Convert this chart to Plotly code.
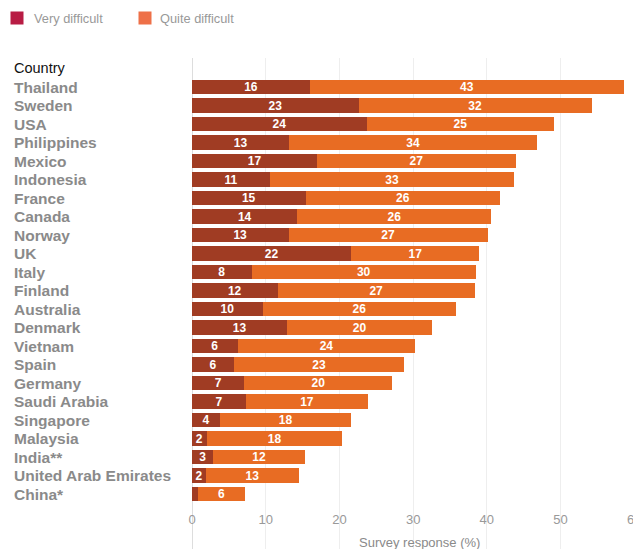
import plotly.graph_objects as go

countries = ["Thailand", "Sweden", "USA", "Philippines", "Mexico", "Indonesia", "France",
             "Canada", "Norway", "UK", "Italy", "Finland", "Australia", "Denmark", "Vietnam",
             "Spain", "Germany", "Saudi Arabia", "Singapore", "Malaysia", "India**",
             "United Arab Emirates", "China*"]
very_difficult = [16.0, 22.6, 23.7, 13.2, 17.0, 10.6, 15.4, 14.3, 13.1, 21.6, 8.1, 11.6, 9.6,
                  12.9, 6.2, 5.7, 7.1, 7.3, 3.8, 2.0, 2.9, 1.9, 0.8]
quite_difficult = [42.6, 31.6, 25.4, 33.6, 26.9, 33.1, 26.4, 26.3, 27.0, 17.4, 30.4, 26.8, 26.2,
                   19.7, 24.1, 23.1, 20.1, 16.6, 17.8, 18.4, 12.4, 12.6, 6.4]
x_ticks = [0, 10, 20, 30, 40, 50, 60]
series_names = ["Very difficult", "Quite difficult"]

DARK = "#A03C23"
ORANGE = "#E86C23"
LEG_VERY = "#B81C44"
LEG_QUITE = "#EE7048"
FONT = "Liberation Sans, Arial, sans-serif"

# page body has an 8px margin; work in page pixels and convert
OFF = 8
PAGE_W, PAGE_H = 641, 549
W, H = PAGE_W - OFF, PAGE_H - OFF
PLOT_L, PLOT_R, PLOT_T, PLOT_B = 192, 635, 58, 549  # page pixels
L, R, T, B = PLOT_L - OFF, PAGE_W - PLOT_R, PLOT_T - OFF, PAGE_H - PLOT_B
pw, ph = W - L - R, H - T - B


def px_x(p):
    return (p - OFF - L) / pw


def px_y(p):
    return (H - B - (p - OFF)) / ph


def labels(vals):
    return [f"{int(v + 0.5):d}" if v >= 1.5 else "" for v in vals]


fig = go.Figure()
for vals, col, name in [(very_difficult, DARK, series_names[0]),
                        (quite_difficult, ORANGE, series_names[1])]:
    fig.add_trace(go.Bar(
        y=countries, x=vals, orientation="h", name=name,
        marker=dict(color=col, line=dict(width=0)),
        text=labels(vals), textposition="inside", insidetextanchor="middle", textangle=0,
        textfont=dict(color="white", size=12, family=FONT, weight="bold"),
        showlegend=False, cliponaxis=False))

annotations = []
# legend (swatches + labels)
for name, col, sx, tx in [(series_names[0], LEG_VERY, 10, 32),
                          (series_names[1], LEG_QUITE, 138, 158)]:
    annotations.append(dict(x=px_x(sx), xref="paper", y=px_y(18), yref="paper", text=" ",
                            showarrow=False, xanchor="left", yanchor="middle", width=12,
                            height=12, bgcolor=col, borderpad=0, font=dict(size=6)))
    annotations.append(dict(x=px_x(tx), xref="paper", y=px_y(18), yref="paper", text=name,
                            showarrow=False, xanchor="left", yanchor="middle",
                            font=dict(family=FONT, size=12.8, color="#999999")))

for c in countries:
    annotations.append(dict(x=px_x(12), xref="paper", y=c, yref="y", text=c, showarrow=False,
                            xanchor="left", yanchor="middle",
                            font=dict(family=FONT, size=15.5, color="#8A8A8A", weight="bold")))
annotations.append(dict(x=px_x(12), xref="paper", y=px_y(68), yref="paper", text="Country",
                        showarrow=False, xanchor="left", yanchor="middle",
                        font=dict(family=FONT, size=14.5, color="#111111")))
annotations.append(dict(x=px_x(419), xref="paper", y=px_y(542), yref="paper",
                        text="Survey response (%)", showarrow=False, xanchor="center",
                        yanchor="middle", font=dict(family=FONT, size=13, color="#8A8A8A")))

n = len(countries)
row = 18.5
top_pad = (87 - PLOT_T) / row
bot_pad = (PLOT_B - 494) / row
fig.update_layout(
    width=W, height=H, margin=dict(l=L, r=R, t=T, b=B, pad=0, autoexpand=False),
    paper_bgcolor="white", plot_bgcolor="white",
    barmode="stack", bargap=0.21,
    uniformtext=dict(minsize=12, mode="show"),
    font=dict(family=FONT, color="#8A8A8A"),
    showlegend=False,
    xaxis=dict(range=[0, 60.1], tickvals=x_ticks, showticklabels=False, showgrid=True,
               gridcolor="#EEEEEE", gridwidth=1, zeroline=True, zerolinecolor="#DDDDDD",
               zerolinewidth=1, showline=False, ticks="", fixedrange=True),
    xaxis2=dict(range=[0, 60.1], overlaying="x", anchor="free", position=px_y(510),
                side="bottom", tickvals=x_ticks, showgrid=False, zeroline=False,
                showline=False, ticks="", ticklabeloverflow="allow",
                tickfont=dict(family=FONT, size=13, color="#999999"),
                automargin=False),
    yaxis=dict(categoryorder="array", categoryarray=countries,
               range=[n - 1 + bot_pad, -top_pad],
               showticklabels=False, showgrid=False, zeroline=False, showline=False, ticks=""),
    annotations=annotations,
)
fig.add_trace(go.Scatter(x=[None], y=[None], xaxis="x2", showlegend=False, hoverinfo="skip"))

fig.write_html("out.html")
